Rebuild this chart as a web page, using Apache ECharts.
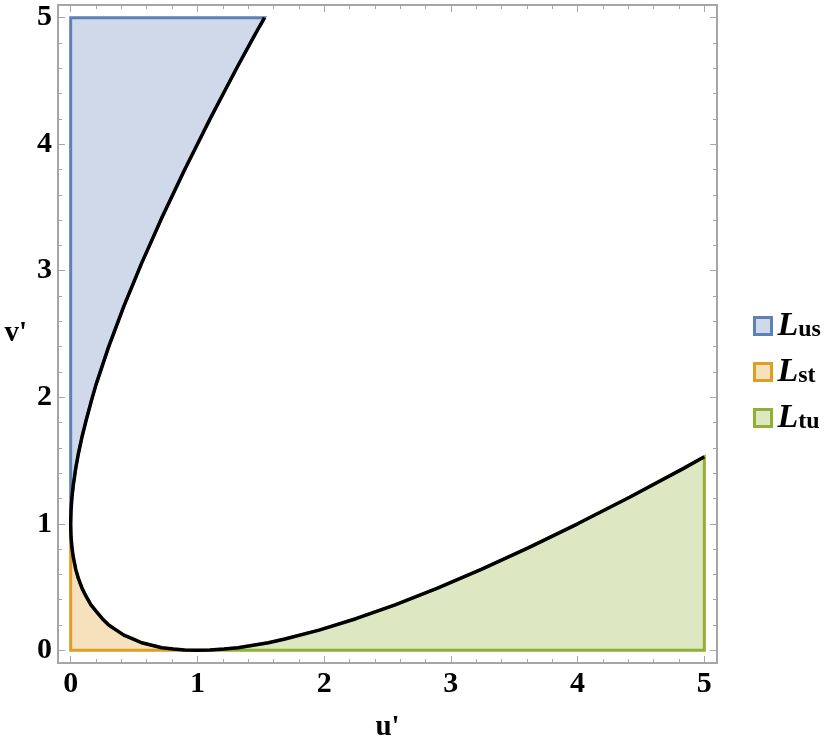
<!DOCTYPE html>
<html>
<head>
<meta charset="utf-8">
<title>regions</title>
<script src="https://cdn.jsdelivr.net/npm/echarts@6/dist/echarts.min.js"></script>
<style>
  html, body { margin: 0; padding: 0; background: #fff; }
  #main { width: 832px; height: 750px; }
</style>
</head>
<body>
<div id="main"></div>
<script>
// 曲线上读出来的点 [u', v']
var upperBranch = [
    [1.53, 5], [1.49, 4.93], [1.44, 4.84], [1.32, 4.62], [1.21, 4.41], [1.1, 4.2],
    [1, 4], [0.9, 3.8], [0.81, 3.61], [0.72, 3.42], [0.64, 3.24], [0.56, 3.06],
    [0.49, 2.89], [0.42, 2.72], [0.36, 2.56], [0.3, 2.4], [0.25, 2.25], [0.2, 2.1],
    [0.16, 1.96], [0.12, 1.81], [0.09, 1.69], [0.06, 1.55], [0.04, 1.44],
    [0.02, 1.3], [0.01, 1.21], [0.0025, 1.1], [0, 1]
];
var lowerArc = [
    [0, 1], [0.0025, 0.9], [0.01, 0.81], [0.02, 0.74], [0.04, 0.64], [0.06, 0.57],
    [0.09, 0.49], [0.12, 0.43], [0.16, 0.36], [0.2, 0.31], [0.25, 0.25],
    [0.3, 0.2], [0.36, 0.16], [0.42, 0.12], [0.49, 0.09], [0.56, 0.06],
    [0.64, 0.04], [0.72, 0.02], [0.81, 0.01], [0.9, 0.0025], [1, 0]
];
var rightBranch = [
    [1, 0], [1.1, 0.0025], [1.21, 0.01], [1.32, 0.02], [1.44, 0.04], [1.56, 0.06],
    [1.69, 0.09], [1.96, 0.16], [2.25, 0.25], [2.56, 0.36], [2.89, 0.49],
    [3.24, 0.64], [3.61, 0.81], [4, 1], [4.41, 1.21], [4.84, 1.44], [5, 1.53]
];
var regionNames = ['L_us', 'L_st', 'L_tu'];
var regionSubs = ['us', 'st', 'tu'];
var majorTicks = [0, 1, 2, 3, 4, 5];
var minorTicks = [0.2, 0.4, 0.6, 0.8, 1.2, 1.4, 1.6, 1.8, 2.2, 2.4, 2.6, 2.8,
    3.2, 3.4, 3.6, 3.8, 4.2, 4.4, 4.6, 4.8];

var lineColors = ['#5e81b5', '#e19c24', '#8fb032'];
var fillColors = ['#cfd9e9', '#f6e1bd', '#dde7c2'];
var frameColor = '#a6a6a6';
var serif = '"Liberation Serif", "DejaVu Serif", serif';

var myCharts = echarts.init(document.getElementById('main'));

// 三块区域的多边形
var polygons = [
    [[0, 5]].concat(upperBranch),
    [[0, 0]].concat(lowerArc),
    [[5, 0]].concat(rightBranch.slice().reverse())
];
var curve = upperBranch.concat(lowerArc.slice(1), rightBranch.slice(1));

var makeAxis = function (dim, pos, ticks, len, withLabel) {
    var ax = {
        type: 'value',
        position: pos,
        min: -0.1,
        max: 5.1,
        gridIndex: 0,
        splitLine: { show: false },
        axisLine: { show: true, onZero: false, lineStyle: { color: frameColor, width: 2 } },
        axisTick: { show: true, inside: true, length: len, customValues: ticks,
            lineStyle: { color: frameColor, width: 1 } },
        axisLabel: { show: false }
    };
    if (withLabel) {
        ax.axisLabel = {
            show: true, customValues: ticks, color: '#000',
            fontFamily: serif, fontWeight: 'bold', fontSize: 30,
            margin: 6
        };
        ax.nameTextStyle = { color: '#000', fontFamily: serif, fontWeight: 'bold', fontSize: 29 };
        ax.nameLocation = 'middle';
        if (dim === 'x') {
            ax.name = "u'";
            ax.nameGap = 50;
        } else {
            ax.name = "v'";
            ax.nameGap = 31;
            ax.nameRotate = 0;
            ax.nameTextStyle.align = 'right';
        }
    }
    return ax;
};

var regionSeries = polygons.map(function (poly, i) {
    return {
        name: regionNames[i],
        type: 'custom',
        coordinateSystem: 'cartesian2d',
        data: poly,
        encode: { x: 0, y: 1 },
        z: 2,
        silent: true,
        renderItem: function (params, api) {
            if (params.dataIndex !== 0) return;
            var pts = poly.map(function (p) { return api.coord(p); });
            return {
                type: 'polygon',
                shape: { points: pts },
                style: { fill: fillColors[i], stroke: lineColors[i], lineWidth: 3 }
            };
        }
    };
});

var option = {
    animation: false,
    backgroundColor: '#fff',
    grid: { left: 58, right: 115, top: 5, bottom: 87, containLabel: false, outerBoundsMode: 'none' },
    xAxis: [
        makeAxis('x', 'bottom', majorTicks, 7, true),
        makeAxis('x', 'bottom', minorTicks, 4, false),
        makeAxis('x', 'top', majorTicks, 7, false),
        makeAxis('x', 'top', minorTicks, 4, false)
    ],
    yAxis: [
        makeAxis('y', 'left', majorTicks, 7, true),
        makeAxis('y', 'left', minorTicks, 4, false),
        makeAxis('y', 'right', majorTicks, 7, false),
        makeAxis('y', 'right', minorTicks, 4, false)
    ],
    legend: {
        orient: 'vertical',
        left: 748,
        top: 304,
        itemWidth: 17,
        itemHeight: 17,
        itemGap: 12,
        icon: 'rect',
        selectedMode: false,
        data: regionNames.map(function (n, i) {
            return { name: n, icon: 'rect',
                itemStyle: { color: fillColors[i], borderColor: lineColors[i], borderWidth: 3 } };
        }),
        formatter: function (name) {
            return '{L|L}{s|' + regionSubs[regionNames.indexOf(name)] + '}';
        },
        textStyle: {
            rich: {
                L: { fontFamily: serif, fontStyle: 'italic', fontWeight: 'bold', fontSize: 34,
                    color: '#000', lineHeight: 28, padding: [0, 0, 0, 1] },
                s: { fontFamily: serif, fontWeight: 'bold', fontSize: 24, color: '#000',
                    lineHeight: 28, verticalAlign: 'bottom', padding: [0, 0, -2, 0] }
            }
        }
    },
    series: regionSeries.concat([{
        name: 'curve',
        type: 'line',
        data: curve,
        showSymbol: false,
        smooth: false,
        z: 5,
        silent: true,
        lineStyle: { color: '#000', width: 3.5 }
    }])
};

myCharts.setOption(option);
</script>
</body>
</html>
